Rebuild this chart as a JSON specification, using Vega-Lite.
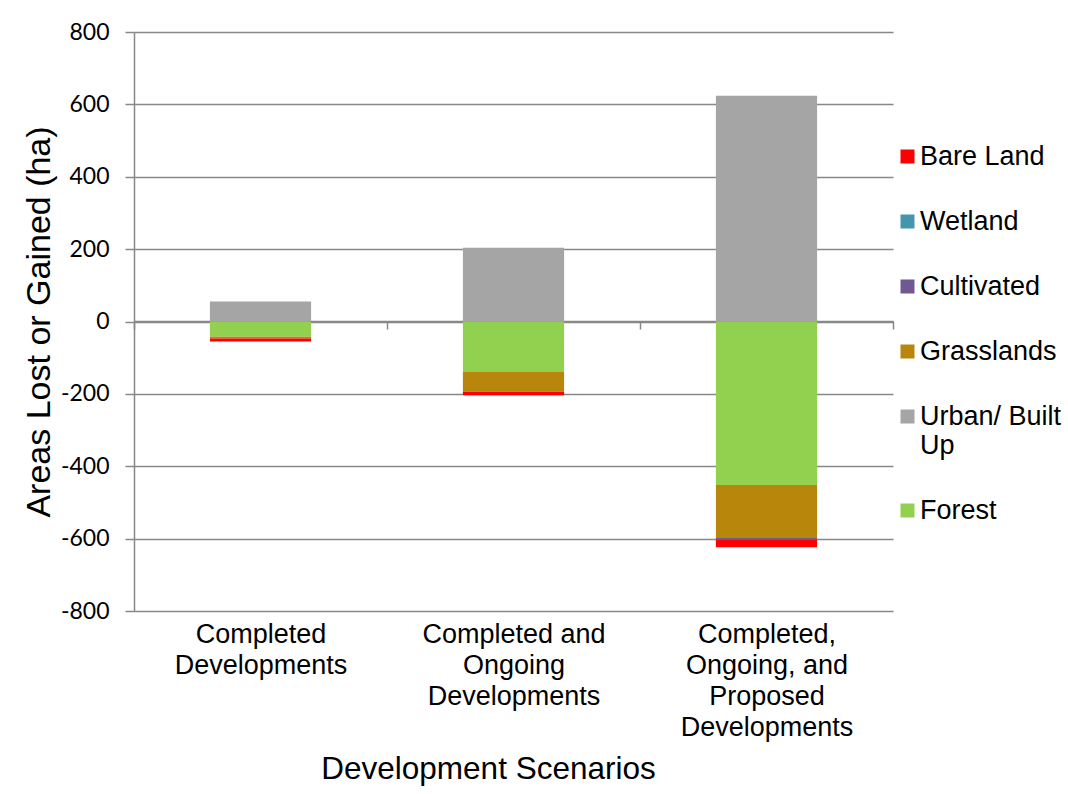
{
  "$schema": "https://vega.github.io/schema/vega-lite/v6.json",
  "width": 759,
  "height": 579,
  "autosize": {"type": "none"},
  "padding": {"left": 134, "top": 32, "right": 175, "bottom": 183},
  "background": "white",
  "config": {"view": {"stroke": null}},
  "data": {
    "values": [
      {"scenario": "Completed Developments", "cover": "Forest", "series": 1, "area": -42},
      {"scenario": "Completed Developments", "cover": "Urban/ Built Up", "series": 2, "area": 55},
      {"scenario": "Completed Developments", "cover": "Grasslands", "series": 3, "area": -5},
      {"scenario": "Completed Developments", "cover": "Cultivated", "series": 4, "area": 0},
      {"scenario": "Completed Developments", "cover": "Wetland", "series": 5, "area": 0},
      {"scenario": "Completed Developments", "cover": "Bare Land", "series": 6, "area": -8},
      {"scenario": "Completed and Ongoing Developments", "cover": "Forest", "series": 1, "area": -138},
      {"scenario": "Completed and Ongoing Developments", "cover": "Urban/ Built Up", "series": 2, "area": 204},
      {"scenario": "Completed and Ongoing Developments", "cover": "Grasslands", "series": 3, "area": -56},
      {"scenario": "Completed and Ongoing Developments", "cover": "Cultivated", "series": 4, "area": 0},
      {"scenario": "Completed and Ongoing Developments", "cover": "Wetland", "series": 5, "area": 0},
      {"scenario": "Completed and Ongoing Developments", "cover": "Bare Land", "series": 6, "area": -10},
      {"scenario": "Completed, Ongoing, and Proposed Developments", "cover": "Forest", "series": 1, "area": -452},
      {"scenario": "Completed, Ongoing, and Proposed Developments", "cover": "Urban/ Built Up", "series": 2, "area": 624},
      {"scenario": "Completed, Ongoing, and Proposed Developments", "cover": "Grasslands", "series": 3, "area": -146},
      {"scenario": "Completed, Ongoing, and Proposed Developments", "cover": "Cultivated", "series": 4, "area": -5},
      {"scenario": "Completed, Ongoing, and Proposed Developments", "cover": "Wetland", "series": 5, "area": 0},
      {"scenario": "Completed, Ongoing, and Proposed Developments", "cover": "Bare Land", "series": 6, "area": -21}
    ]
  },
  "mark": {"type": "bar", "width": {"band": 0.4}},
  "encoding": {
    "x": {
      "field": "scenario",
      "type": "nominal",
      "sort": null,
      "scale": {"paddingInner": 0, "paddingOuter": 0},
      "axis": {
        "title": "Development Scenarios",
        "labelAngle": 0,
        "tickBand": "extent",
        "offset": -290,
        "domainColor": "#888888",
        "domainWidth": 1.5,
        "tickColor": "#888888",
        "tickWidth": 1.5,
        "tickSize": 8,
        "labelPadding": 292,
        "labelBaseline": "top",
        "labelFont": "Liberation Sans",
        "labelFontSize": 27,
        "labelLineHeight": 31,
        "labelColor": "black",
        "labelLimit": 0,
        "labelExpr": "datum.label == 'Completed Developments' ? ['Completed', 'Developments'] : datum.label == 'Completed and Ongoing Developments' ? ['Completed and', 'Ongoing', 'Developments'] : datum.label == 'Completed, Ongoing, and Proposed Developments' ? ['Completed,', 'Ongoing, and', 'Proposed', 'Developments'] : ''",
        "titleFont": "Liberation Sans",
        "titleFontSize": 31.5,
        "titleFontWeight": "normal",
        "titleColor": "black",
        "titleX": 354,
        "titleY": 448,
        "titleAlign": "center",
        "titleBaseline": "middle"
      }
    },
    "y": {
      "field": "area",
      "type": "quantitative",
      "stack": "zero",
      "scale": {"domain": [-800, 800], "nice": false},
      "axis": {
        "values": [-800, -600, -400, -200, 0, 200, 400, 600, 800],
        "title": "Areas Lost or Gained (ha)",
        "grid": true,
        "gridColor": "#888888",
        "gridWidth": 1.5,
        "domainColor": "#888888",
        "domainWidth": 1.5,
        "tickColor": "#888888",
        "tickWidth": 1.5,
        "tickSize": 9,
        "labelFont": "Lato",
        "labelFontSize": 23,
        "labelPadding": 16,
        "labelColor": "black",
        "labelExpr": "'' + datum.value",
        "titleFont": "Liberation Sans",
        "titleFontSize": 34,
        "titleFontWeight": "normal",
        "titleColor": "black",
        "titlePadding": 4
      }
    },
    "color": {
      "field": "cover",
      "type": "nominal",
      "scale": {
        "domain": ["Bare Land", "Wetland", "Cultivated", "Grasslands", "Urban/ Built Up", "Forest"],
        "range": ["#FF0000", "#4396AC", "#6F5992", "#B8860B", "#A5A5A5", "#92D050"]
      },
      "legend": {
        "title": null,
        "orient": "none",
        "legendX": 760,
        "legendY": 111,
        "padding": 0,
        "symbolType": "square",
        "symbolSize": 196,
        "symbolStrokeWidth": 0,
        "labelFont": "Liberation Sans",
        "labelFontSize": 27,
        "labelColor": "black",
        "labelOffset": -1,
        "labelLimit": 200,
        "rowPadding": 37,
        "labelExpr": "datum.label == 'Urban/ Built Up' ? ['Urban/ Built', 'Up'] : datum.label"
      }
    },
    "order": {"field": "series", "type": "quantitative"}
  }
}
